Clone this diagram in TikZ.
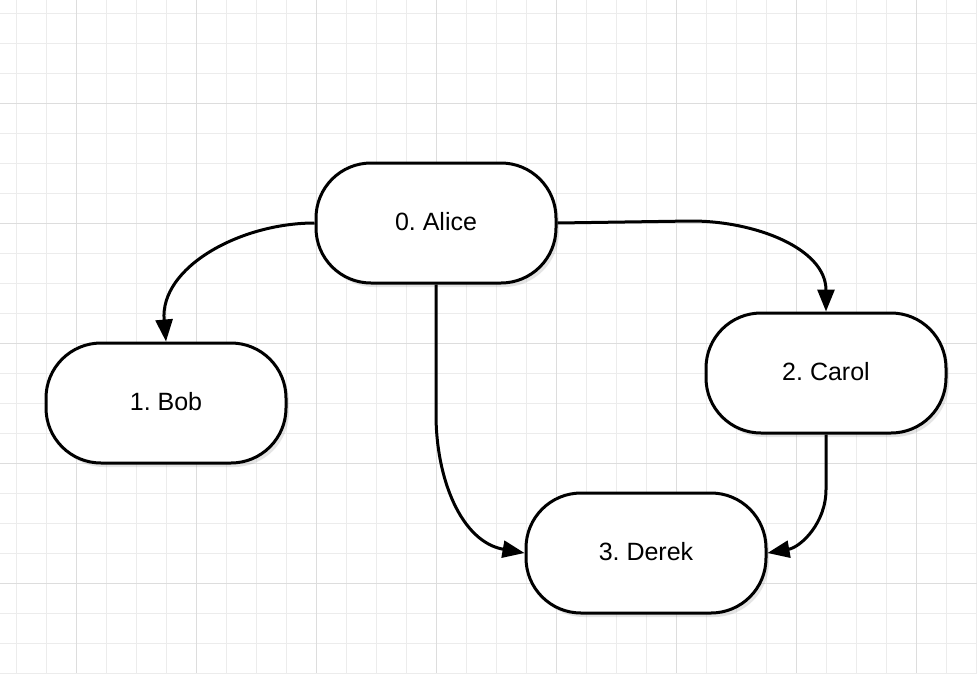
\documentclass[tikz,border=0pt]{standalone}
\usepackage{fontspec}
\setmainfont{Liberation Sans}
\usetikzlibrary{shadows, arrows.meta}
\frenchspacing

\begin{document}
\begin{tikzpicture}[x=1pt, y=-1pt,
  person/.style={draw, line width=3pt, rounded corners=55pt, fill=white,
    minimum width=240pt, minimum height=120pt, inner sep=0pt,
    font=\fontsize{25}{30}\selectfont,
    drop shadow={opacity=0.2, shadow xshift=3pt, shadow yshift=-4pt}},
  link/.style={line width=3pt, -{Triangle[length=22pt, width=17pt]}}]
\useasboundingbox (0,0) rectangle (977,673);
\fill[white] (0,0) rectangle (977,673);

% grid
\foreach \x in {16,46,...,976} \draw[gray!15, line width=1pt] (\x,0) -- (\x,673);
\foreach \y in {13,43,...,673} \draw[gray!15, line width=1pt] (0,\y) -- (977,\y);
\foreach \x in {76,196,...,916} \draw[gray!27, line width=1pt] (\x,0) -- (\x,673);
\foreach \y in {103,223,...,583} \draw[gray!27, line width=1pt] (0,\y) -- (977,\y);

\node[person] (alice) at (436, 223) {\raisebox{3pt}{0. Alice}};
\node[person] (bob) at (166, 403) {\raisebox{3pt}{1. Bob}};
\node[person] (carol) at (826, 373) {\raisebox{3pt}{2. Carol}};
\node[person] (derek) at (646, 553) {\raisebox{3pt}{3. Derek}};

\draw [link] (alice.west) to[out=180, in=95] (bob.north);
\draw [link] (alice.east) -- ++(134,-2) to[out=0, in=90] (carol.north);
\draw [link] (alice.south) -- ++(0,130) to[out=-90, in=170] (derek.west);
\draw [link] (carol.south) -- ++(0,55) to[out=-90, in=10] (derek.east);
\end{tikzpicture}
\end{document}
